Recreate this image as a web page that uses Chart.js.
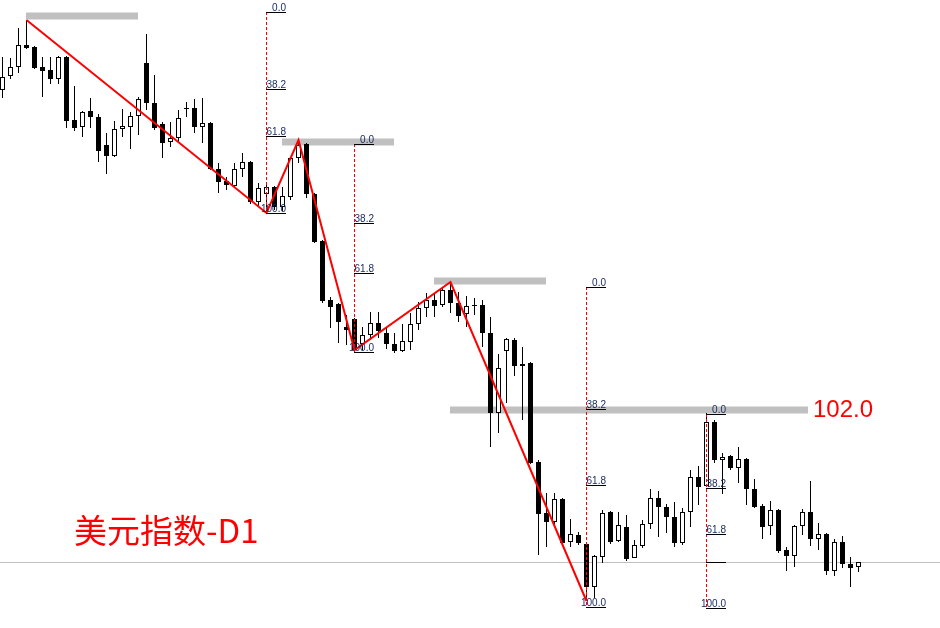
<!DOCTYPE html>
<html>
<head>
<meta charset="utf-8">
<title>美元指数-D1</title>
<script src="https://cdn.jsdelivr.net/npm/chart.js@4.4.0/dist/chart.umd.min.js"></script>
<style>
  html, body { margin: 0; padding: 0; background: #fff; }
  #wrap { width: 940px; height: 628px; position: relative; }
</style>
</head>
<body>
<div id="wrap"><canvas id="dxyChart"></canvas></div>
<script>
// ==========================================
// 美元指数 D1 - candles, zigzag & fibo levels
// ==========================================

// Daily candles (one per bar, oldest first)
const openP = [
  108.40, 108.68, 108.86, 109.30, 109.26, 108.86, 108.80, 108.62, 109.06, 107.80,
  107.66, 107.98, 107.86, 107.30, 107.08, 107.62, 107.66, 107.88, 108.94, 108.14,
  107.72, 107.36, 107.44, 108.04, 108.04, 107.66, 107.74, 106.82, 106.58, 106.48,
  106.82, 106.96, 106.16, 106.32, 106.46, 106.06, 106.26, 107.04, 107.32, 106.32,
  105.38, 104.20, 104.12, 103.66, 103.82, 103.32, 103.50, 103.74, 103.54, 103.32,
  103.18, 103.36, 103.72, 104.04, 104.20, 104.10, 104.40, 104.14, 103.92, 104.10,
  104.10, 103.54, 101.94, 103.18, 103.40, 102.92, 102.94, 100.96, 99.94, 99.76,
  100.22, 99.36, 99.50, 99.32, 98.46, 99.06, 99.96, 99.38, 99.66, 99.04,
  99.28, 99.72, 100.24, 100.06, 99.86, 99.34, 99.96, 100.66, 100.48, 101.76,
  101.00, 101.08, 100.84, 101.02, 100.42, 100.08, 99.68, 100.00, 99.20, 99.08,
  99.68, 99.96, 99.42, 99.52, 98.78, 99.36, 98.92, 98.86
];
const highP = [
  109.06, 109.04, 109.64, 109.80, 109.28, 109.06, 109.06, 109.08, 109.08, 108.48,
  107.98, 108.24, 107.92, 107.54, 107.78, 108.02, 107.96, 108.26, 109.52, 108.70,
  107.76, 107.76, 108.00, 108.16, 108.22, 108.24, 107.76, 106.94, 106.66, 106.94,
  107.14, 106.98, 106.54, 106.56, 106.48, 106.46, 107.06, 107.40, 107.34, 106.34,
  105.40, 104.26, 104.14, 103.90, 103.84, 103.66, 103.96, 103.96, 103.64, 103.54,
  103.72, 103.94, 104.16, 104.34, 104.34, 104.44, 104.56, 104.36, 104.28, 104.24,
  104.20, 103.86, 103.12, 103.44, 103.44, 103.26, 102.96, 101.00, 100.34, 100.34,
  100.24, 99.82, 99.56, 99.34, 99.10, 100.00, 99.98, 99.96, 99.90, 99.40,
  99.80, 100.42, 100.38, 100.12, 100.16, 100.04, 100.80, 100.88, 101.94, 101.80,
  101.14, 101.10, 101.26, 101.04, 100.62, 100.12, 100.18, 100.02, 99.26, 99.70,
  100.02, 100.58, 99.74, 99.54, 99.42, 99.48, 99.06, 98.96
];
const lowP = [
  108.24, 108.62, 108.74, 109.22, 108.82, 108.26, 108.52, 108.52, 107.64, 107.58,
  107.46, 107.64, 106.96, 106.72, 107.06, 107.46, 107.22, 107.50, 108.00, 107.60,
  107.04, 107.26, 107.36, 107.86, 107.54, 107.34, 106.80, 106.34, 106.40, 106.44,
  106.66, 106.12, 106.06, 105.94, 106.00, 105.98, 106.20, 106.94, 106.24, 105.34,
  104.14, 103.64, 103.34, 103.30, 103.18, 103.20, 103.40, 103.44, 103.22, 103.14,
  103.16, 103.20, 103.60, 103.86, 103.86, 104.06, 103.94, 103.76, 103.66, 103.90,
  103.26, 101.26, 101.54, 102.14, 102.68, 101.80, 100.92, 99.10, 99.26, 99.66,
  99.30, 99.26, 99.30, 98.18, 98.24, 98.94, 99.32, 99.36, 98.98, 99.04,
  99.24, 99.62, 99.46, 99.54, 99.26, 99.30, 99.66, 100.10, 100.46, 100.94,
  100.32, 100.80, 100.54, 100.10, 100.04, 99.42, 99.50, 99.14, 98.78, 98.86,
  99.50, 99.28, 99.20, 98.70, 98.68, 98.84, 98.46, 98.76
];
const closeP = [
  108.66, 108.86, 109.30, 109.24, 108.84, 108.78, 108.62, 109.06, 107.78, 107.64,
  107.96, 107.86, 107.18, 107.08, 107.62, 107.68, 107.88, 108.22, 108.14, 107.64,
  107.34, 107.44, 107.84, 108.02, 107.66, 107.74, 106.82, 106.56, 106.50, 106.82,
  106.96, 106.16, 106.44, 106.46, 106.06, 106.28, 107.04, 107.30, 106.32, 105.36,
  104.18, 104.06, 103.76, 103.60, 103.20, 103.50, 103.74, 103.58, 103.32, 103.18,
  103.38, 103.72, 104.04, 104.20, 104.08, 104.40, 104.14, 103.88, 104.08, 104.08,
  103.54, 101.94, 102.84, 103.42, 102.88, 102.88, 100.94, 99.92, 99.76, 100.22,
  99.34, 99.52, 99.34, 98.46, 99.08, 99.94, 99.36, 99.70, 99.02, 99.30,
  99.72, 100.24, 100.06, 99.86, 99.34, 99.96, 100.66, 100.46, 101.76, 101.00,
  101.06, 100.84, 101.02, 100.42, 100.06, 99.66, 100.00, 99.18, 99.08, 99.68,
  99.96, 99.42, 99.52, 98.78, 99.36, 98.92, 98.84, 98.96
];

// ZigZag swing points (bar index, price)
const pivotIdx = [3, 33, 37, 44, 56, 73];
const pivotPrice = [109.80, 105.94, 107.40, 103.20, 104.56, 98.18];

// Grey horizontal levels (from bar, to bar, price)
const levelFrom = [2.94, 34.94, 53.94, 55.94];
const levelTo = [16.94, 48.94, 67.94, 100.69];
const levelPrice = [109.88, 107.36, 104.58, 102.00];

// Current price line
const lastLine = 98.95;

// Fibonacci retracements (anchor bar, 0.0 price, 100.0 price, levels)
const fibAnchor = [33, 44, 73, 88];
const fibZero = [109.96, 107.32, 104.46, 101.92];
const fibFull = [105.94, 103.16, 98.06, 98.04];
const fibLevels = [
  [0, 38.2, 61.8, 100],
  [0, 38.2, 61.8, 100],
  [0, 38.2, 61.8, 100],
  [0, 38.2, 61.8, 76.4, 100]
];
const fibNames = [
  ['0.0', '38.2', '61.8', '100.0'],
  ['0.0', '38.2', '61.8', '100.0'],
  ['0.0', '38.2', '61.8', '100.0'],
  ['0.0', '38.2', '61.8', '', '100.0']
];

const levelTag = '102.0';
const chartTitle = '美元指数-D1';

// Build datasets
const bars = openP.map((_, i) => i);
const wickData = bars.map(i => ({ x: i, y: [lowP[i], highP[i]] }));
const bodyData = bars.map(i => ({ x: i, y: [openP[i], closeP[i]] }));
const bodyColors = bars.map(i => closeP[i] > openP[i] ? '#ffffff' : '#000000');

const greyLevels = levelPrice.map((p, k) => ({
  type: 'line',
  data: [{ x: levelFrom[k], y: p }, { x: levelTo[k], y: p }],
  borderColor: '#c0c0c0',
  borderWidth: 7,
  borderCapStyle: 'butt',
  pointRadius: 0,
  fill: false,
  order: 6
}));

const fibVerticals = fibAnchor.map((a, k) => ({
  type: 'line',
  data: [{ x: a, y: fibZero[k] }, { x: a, y: fibFull[k] }],
  borderColor: '#ff0000',
  borderWidth: 1,
  borderDash: [3, 2],
  pointRadius: 0,
  fill: false,
  order: 3
}));

// Fibo level ticks, labels and tags
const fiboLabels = {
  id: 'fiboLabels',
  afterDatasetsDraw(chart) {
    const { ctx, scales } = chart;
    const xs = scales.x, ys = scales.y;
    ctx.save();
    ctx.lineWidth = 1;
    ctx.strokeStyle = '#000000';
    ctx.fillStyle = '#14285e';
    ctx.font = '10px "Liberation Sans", Arial, sans-serif';
    ctx.textAlign = 'right';
    ctx.textBaseline = 'alphabetic';
    fibAnchor.forEach((a, k) => {
      const left = Math.floor(xs.getPixelForValue(a));
      const right = left + 20;
      fibLevels[k].forEach((lv, j) => {
        const price = fibZero[k] + (fibFull[k] - fibZero[k]) * lv / 100;
        const py = Math.round(ys.getPixelForValue(price)) + 0.5;
        ctx.beginPath();
        ctx.moveTo(left, py);
        ctx.lineTo(right, py);
        ctx.stroke();
        if (fibNames[k][j]) ctx.fillText(fibNames[k][j], right, py - 2);
      });
    });

    ctx.fillStyle = '#ff0000';
    ctx.textAlign = 'left';
    ctx.font = '24px "Liberation Sans", Arial, sans-serif';
    ctx.fillText(levelTag, 813, ys.getPixelForValue(levelPrice[3]) + 7);
    ctx.font = '33px "Noto Sans CJK SC", sans-serif';
    ctx.fillText(chartTitle, 74, 543);
    ctx.restore();
  }
};

const ctx = document.getElementById('dxyChart');
new Chart(ctx, {
  type: 'bar',
  data: {
    datasets: [
      {
        type: 'line',
        data: [{ x: -0.3125, y: lastLine }, { x: 117.1875, y: lastLine }],
        borderColor: '#c0c0c0',
        borderWidth: 1,
        pointRadius: 0,
        fill: false,
        order: 7
      },
      ...greyLevels,
      {
        label: 'wick',
        data: wickData,
        backgroundColor: '#000000',
        borderWidth: 0,
        barThickness: 1,
        inflateAmount: 0,
        grouped: false,
        order: 5
      },
      {
        label: 'body',
        data: bodyData,
        backgroundColor: bodyColors,
        borderColor: '#000000',
        borderWidth: 1,
        borderSkipped: false,
        barThickness: 5,
        inflateAmount: 0,
        grouped: false,
        order: 4
      },
      ...fibVerticals,
      {
        type: 'line',
        label: 'zigzag',
        data: pivotIdx.map((p, k) => ({ x: p, y: pivotPrice[k] })),
        borderColor: '#ff0000',
        borderWidth: 2,
        pointRadius: 0,
        tension: 0,
        fill: false,
        order: 2
      }
    ]
  },
  options: {
    responsive: true,
    maintainAspectRatio: false,
    animation: false,
    layout: { padding: 0 },
    plugins: {
      legend: { display: false },
      tooltip: { enabled: false }
    },
    scales: {
      x: {
        type: 'linear',
        min: -0.3125,
        max: 117.1875,
        offset: false,
        display: false
      },
      y: {
        min: 97.64,
        max: 110.2,
        display: false
      }
    }
  },
  plugins: [fiboLabels]
});
</script>
</body>
</html>
